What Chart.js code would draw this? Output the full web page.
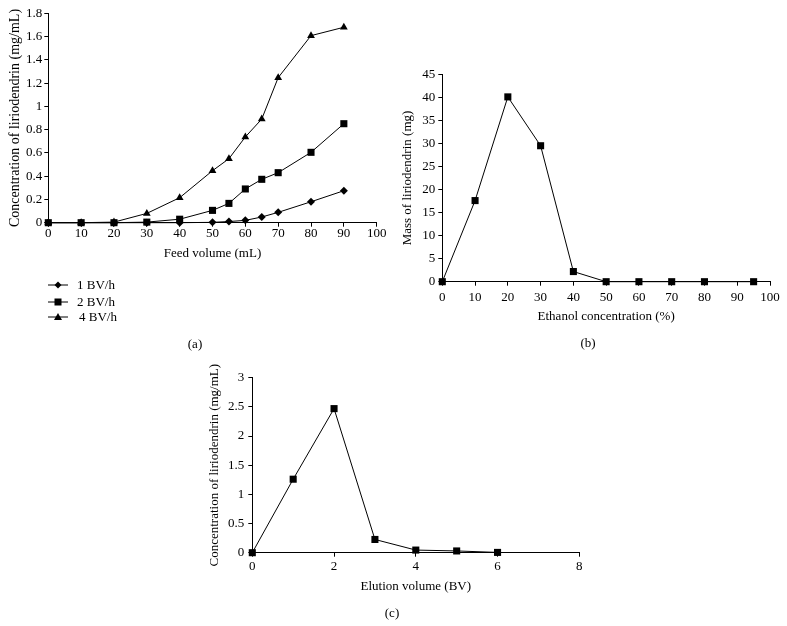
<!DOCTYPE html>
<html><head><meta charset="utf-8">
<script src="https://cdn.jsdelivr.net/npm/chart.js@4.4.1/dist/chart.umd.min.js"></script>
<style>
html,body{margin:0;padding:0;background:#fff;}
#wrap{position:relative;width:787px;height:626px;overflow:hidden;font-family:'Liberation Serif','Times New Roman',serif;color:#000;}
canvas{position:absolute;left:0;top:0;}
.lbl{position:absolute;font-size:13px;line-height:13px;transform:translate(-50%,-50%);white-space:nowrap;}
.leg{position:absolute;left:48px;height:14px;display:flex;align-items:center;font-size:13px;white-space:nowrap;}
.leg span{margin-left:9px;}
</style></head>
<body><div id="wrap">
<canvas id="ca" width="787" height="626"></canvas>
<canvas id="cb" width="787" height="626"></canvas>
<canvas id="cc" width="787" height="626"></canvas>
<div class="leg" style="top:278px"><svg width="20" height="10"><line x1="0" y1="5" x2="20" y2="5" stroke="#000" stroke-width="1"/><polygon points="10,1.5 13.5,5 10,8.5 6.5,5" fill="#000"/></svg><span id="l0"></span></div>
<div class="leg" style="top:295px"><svg width="20" height="10"><line x1="0" y1="5" x2="20" y2="5" stroke="#000" stroke-width="1"/><rect x="6.5" y="1.5" width="7" height="7" fill="#000"/></svg><span id="l1"></span></div>
<div class="leg" style="top:310px"><svg width="20" height="10"><line x1="0" y1="5" x2="20" y2="5" stroke="#000" stroke-width="1"/><polygon points="10,1 14,8 6,8" fill="#000"/></svg><span id="l2" style="margin-left:11px"></span></div>
<div class="lbl" style="left:195px;top:343px">(a)</div>
<div class="lbl" style="left:588px;top:342px">(b)</div>
<div class="lbl" style="left:392px;top:612px">(c)</div>
</div>
<script>
// ---- data ----
const feedVolume = [0,10,20,30,40,50,55,60,65,70,80,90];
const rate1 = [0,0,0,0,0,0.003,0.01,0.02,0.049,0.089,0.18,0.275];
const rate2 = [0,0,0,0.005,0.03,0.106,0.166,0.29,0.373,0.43,0.605,0.851];
const rate4 = [0,0,0.005,0.08,0.215,0.447,0.55,0.737,0.891,1.247,1.608,1.68];
const seriesNames = ['1 BV/h','2 BV/h','4 BV/h'];
const ethanolConc = [0,10,20,30,40,50,60,70,80,95];
const massLirio = [0,17.6,40.1,29.5,2.2,0,0,0,0,0];
const elutionVol = [0,1,2,3,4,5,6];
const elutionConc = [0,1.26,2.47,0.227,0.045,0.03,0.005];

document.getElementById('l0').textContent = seriesNames[0];
document.getElementById('l1').textContent = seriesNames[1];
document.getElementById('l2').textContent = seriesNames[2];

const FONT = {family:"'Liberation Serif','Times New Roman',serif", size:13};
const fmt = v => String(+(+v).toFixed(2));
const pts = (xs, ys) => xs.map((x,i)=>({x, y:ys[i]}));

function ds(label, xs, ys, style, r, order){
  return {label, data:pts(xs,ys), borderColor:'#000', borderWidth:1, backgroundColor:'#000',
    pointStyle:style, pointRadius:r, pointBackgroundColor:'#000', pointBorderColor:'#000',
    pointBorderWidth:0, tension:0, clip:false, order};
}

function makeChart(id, datasets, o){
  const grid = {drawOnChartArea:false, drawTicks:true, tickLength:4, tickColor:'#000', tickWidth:1};
  const border = {display:true, color:'#000', width:1};
  new Chart(document.getElementById(id), {
    type:'line',
    data:{datasets},
    options:{
      responsive:false, animation:false, devicePixelRatio:1,
      layout:{padding:o.pad},
      plugins:{legend:{display:false}, tooltip:{enabled:false}},
      scales:{
        x:{type:'linear', min:o.xmin, max:o.xmax,
          ticks:{stepSize:o.xstep, color:'#000', font:FONT, padding:o.xtp, maxRotation:0, autoSkip:false, callback:fmt},
          grid, border,
          title:{display:true, text:o.xtitle, color:'#000', font:FONT, padding:{top:0,bottom:0}},
          afterFit:s=>{s.height=o.xh;}},
        y:{type:'linear', min:o.ymin, max:o.ymax,
          ticks:{stepSize:o.ystep, color:'#000', font:FONT, padding:o.ytp, autoSkip:false, callback:fmt},
          grid, border,
          title:{display:true, text:o.ytitle, color:'#000', font:{...FONT, size:o.ytitleSize||13}, padding:{top:o.ytitlePad,bottom:0}},
          afterFit:s=>{s.width=o.yw;}}
      }
    }
  });
}

makeChart('ca', [
  ds(seriesNames[0], feedVolume, rate1, 'rectRot', 4, 2),
  ds(seriesNames[1], feedVolume, rate2, 'rect', 5, 0),
  ds(seriesNames[2], feedVolume, rate4, 'triangle', 4.5, 1)
], {pad:{left:0, top:13.3, right:410.3, bottom:364.2}, yw:48.3, xh:39.1, ytitlePad:7.2, ytitleSize:14, xtp:-1, ytp:2,
   xmin:0, xmax:100, xstep:10, ymin:0, ymax:1.8, ystep:0.2,
   xtitle:'Feed volume (mL)', ytitle:'Concentration of liriodendrin (mg/mL)'});

makeChart('cb', [
  ds('Mass', ethanolConc, massLirio, 'rect', 5, 0)
], {pad:{left:390, top:74.3, right:17, bottom:301.2}, yw:52.3, xh:43.1, ytitlePad:10.2, xtp:3.8, ytp:3,
   xmin:0, xmax:100, xstep:10, ymin:0, ymax:45, ystep:5,
   xtitle:'Ethanol concentration (%)', ytitle:'Mass of liriodendrin (mg)'});

makeChart('cc', [
  ds('Elution', elutionVol, elutionConc, 'rect', 5, 0)
], {pad:{left:200, top:377.7, right:207.7, bottom:31.2}, yw:52.3, xh:42.1, ytitlePad:7.2, xtp:2.2, ytp:4,
   xmin:0, xmax:8, xstep:2, ymin:0, ymax:3, ystep:0.5,
   xtitle:'Elution volume (BV)', ytitle:'Concentration of liriodendrin (mg/mL)'});
</script>
</body></html>
